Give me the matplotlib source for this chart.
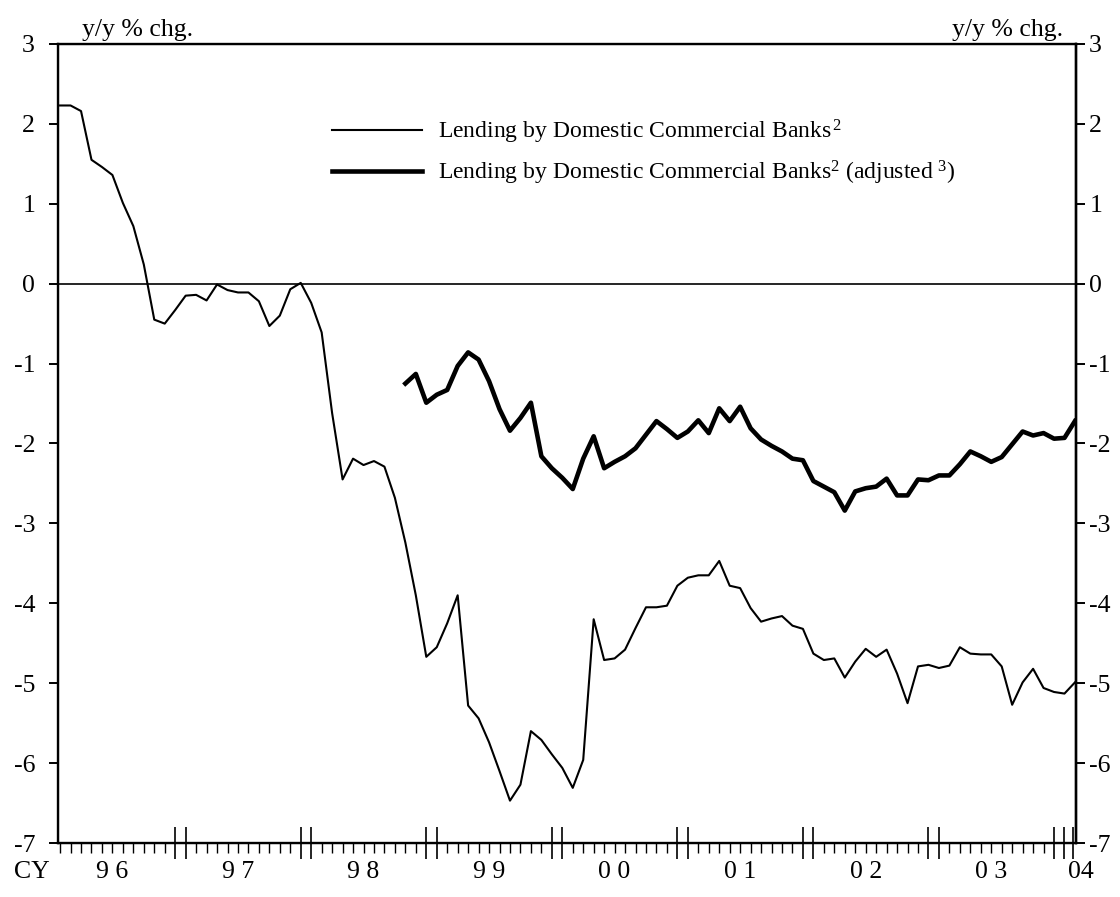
import matplotlib
matplotlib.use("Agg")
import matplotlib.pyplot as plt
import numpy as np
from matplotlib.ticker import FixedLocator, NullFormatter

plt.rcParams['font.family'] = ['Liberation Serif', 'DejaVu Serif']
plt.rcParams['mathtext.fontset'] = 'custom'
plt.rcParams['mathtext.rm'] = 'Liberation Serif'
plt.rcParams['mathtext.it'] = 'Liberation Serif'
plt.rcParams['axes.unicode_minus'] = False
plt.rcParams['font.size'] = 18.5

# monthly, Jan 1996 .. Feb 2004 (month index 0..97)
lending = [2.23, 2.23, 2.16, 1.55, 1.46, 1.36, 1.01, 0.72, 0.24, -0.45, -0.50, -0.33,
           -0.15, -0.14, -0.21, -0.01, -0.08, -0.11, -0.11, -0.22, -0.53, -0.40, -0.07, 0.01,
           -0.24, -0.61, -1.62, -2.45, -2.19, -2.27, -2.22, -2.29, -2.68, -3.24, -3.90, -4.67,
           -4.55, -4.25, -3.90, -5.28, -5.44, -5.74, -6.10, -6.47, -6.27, -5.60, -5.71, -5.89,
           -6.06, -6.31, -5.96, -4.20, -4.71, -4.69, -4.58, -4.31, -4.05, -4.05, -4.03, -3.78,
           -3.68, -3.65, -3.65, -3.47, -3.78, -3.81, -4.06, -4.23, -4.19, -4.16, -4.28, -4.32,
           -4.63, -4.71, -4.69, -4.93, -4.73, -4.57, -4.67, -4.58, -4.88, -5.25, -4.79, -4.77,
           -4.81, -4.78, -4.55, -4.63, -4.64, -4.64, -4.79, -5.27, -4.99, -4.82, -5.06, -5.11,
           -5.13, -4.99]

# adjusted series starts Oct 1998 (month index 33)
adj_start = 33
lending_adj = [-1.25, -1.13, -1.49, -1.39, -1.33, -1.03, -0.86, -0.95, -1.22, -1.57, -1.84, -1.68,
               -1.49, -2.16, -2.31, -2.43, -2.57, -2.19, -1.91, -2.31, -2.23, -2.16, -2.06, -1.89,
               -1.72, -1.82, -1.93, -1.85, -1.71, -1.87, -1.56, -1.72, -1.54, -1.81, -1.95, -2.03,
               -2.10, -2.19, -2.21, -2.47, -2.54, -2.61, -2.84, -2.60, -2.56, -2.54, -2.44, -2.65,
               -2.65, -2.45, -2.46, -2.40, -2.40, -2.26, -2.10, -2.16, -2.23, -2.17, -2.01, -1.85,
               -1.90, -1.87, -1.94, -1.93, -1.72]

year_labels = ['9 6', '9 7', '9 8', '9 9', '0 0', '0 1', '0 2', '0 3']

x = np.arange(len(lending))
x_adj = np.arange(adj_start, adj_start + len(lending_adj))

fig = plt.figure(figsize=(11.2, 8.97), dpi=100)
ax = fig.add_axes([0.0518, 0.0602, 0.9089, 0.8908])

ax.axhline(0, color='black', lw=1.2, zorder=1)
l1, = ax.plot(x, lending, color='black', lw=1.5)
l2, = ax.plot(x_adj, lending_adj, color='black', lw=3.3)

ax.set_xlim(-0.2, 97.1)
ax.set_ylim(-7, 3)

for s in ax.spines.values():
    s.set_linewidth(1.7)

# y axis both sides
ax.set_yticks(range(-7, 4))
ax.tick_params(axis='y', direction='out', length=6.5, width=1.4, pad=10)
ax2 = ax.twinx()
ax2.set_ylim(-7, 3)
ax2.set_yticks(range(-7, 4))
ax2.tick_params(axis='y', direction='out', length=6.5, width=1.4, pad=3)
ax2.spines['right'].set_linewidth(1.7)

# x axis: month ticks, long ticks around year ends
majors = []
for k in range(8):
    majors += [12 * k + 11, 12 * k + 12]
majors.append(96.8)
minors = [m for m in range(0, 97) if m not in majors]
ax.xaxis.set_major_locator(FixedLocator(majors))
ax.xaxis.set_minor_locator(FixedLocator(minors))
ax.xaxis.set_major_formatter(NullFormatter())
ax.tick_params(axis='x', which='major', direction='inout', length=23, width=1.2)
ax.tick_params(axis='x', which='minor', direction='out', length=7.5, width=1.0)

tr = ax.get_xaxis_transform()
for k, lab in enumerate(year_labels):
    ax.text(12 * k + 5, -0.036, lab, transform=tr, ha='center', va='center')
ax.text(-2.7, -0.036, 'CY', transform=tr, ha='center', va='center')
ax.text(97.6, -0.036, '04', transform=tr, ha='center', va='center')

ax.text(0.0236, 1.004, 'y/y % chg.', transform=ax.transAxes, ha='left', va='bottom')
ax.text(0.987, 1.004, 'y/y % chg.', transform=ax.transAxes, ha='right', va='bottom')

ax.legend([l1, l2],
          ['Lending by Domestic Commercial Banks$^{\\,2}$',
           'Lending by Domestic Commercial Banks$^{2}$ (adjusted $^{3}$)'],
          loc='upper left', bbox_to_anchor=(0.26, 0.92), frameon=False, fontsize=17,
          handlelength=3.8, handletextpad=0.7, labelspacing=0.55, borderaxespad=0)

fig.savefig('out.png', dpi=100)
